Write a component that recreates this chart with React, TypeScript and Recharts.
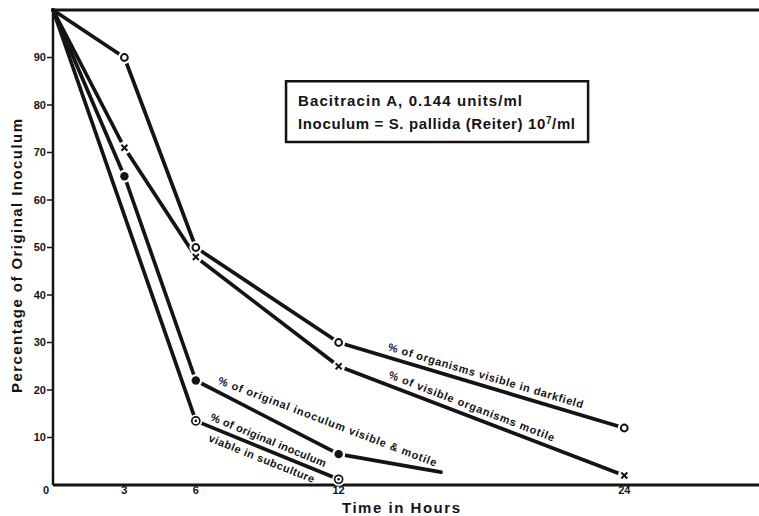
import React from 'react';
import { LineChart, Line, XAxis, YAxis, ReferenceLine, ReferenceArea, ReferenceDot } from 'recharts';

// ---- data ----
const hours = [0, 3, 6, 12, 24];
const darkfieldPct = [100, 90, 50, 30, 12];
const motilePct = [100, 71, 48, 25, 2];
const visibleMotileHours = [0, 3, 6, 12, 16.3];
const visibleMotilePct = [100, 65, 22, 6.5, 2.7];
const subcultureHours = [0, 6, 12];
const subculturePct = [100, 13.5, 1.2];

const xTicks = [0, 3, 6, 12, 24];
const yTicks = [10, 20, 30, 40, 50, 60, 70, 80, 90];
const xDomainMax = 29.66;

const boxLine1 = 'Bacitracin A,  0.144 units/ml';
const boxLine2a = 'Inoculum = S. pallida (Reiter) 10';
const boxLine2sup = '7';
const boxLine2b = '/ml';
const boxHours = [9.79, 22.48];
const boxPct = [72.2, 85.0];

const annotationTexts = [
  '% of organisms visible in darkfield',
  '% of visible organisms motile',
  '% of original inoculum visible & motile',
  '% of original inoculum',
  'viable in subculture',
];
const annotationHours = [18.18, 17.59, 11.53, 9.05, 8.77];
const annotationPct = [23.05, 16.63, 13.4, 9.5, 5.6];
const annotationAngle = [16.6, 21.1, 20.9, 22.4, 21.8];
const annotationLength = [203, 177, 233, 124, 113];

const toPoints = (xs: number[], ys: number[]) => xs.map((x, i) => ({ hours: x, pct: ys[i] }));
const seriesA = toPoints(hours, darkfieldPct);
const seriesB = toPoints(hours, motilePct);
const seriesC = toPoints(visibleMotileHours, visibleMotilePct);
const seriesD = toPoints(subcultureHours, subculturePct);

const INK = '#141414';
const FONT = '"Liberation Sans", Arial, sans-serif';

type Kind = 'open' | 'cross' | 'filled' | 'target';

const hasMarker = (kind: Kind, index: number) => {
  if (index === 0) return false;
  if (kind === 'filled' && index === visibleMotileHours.length - 1) return false;
  return true;
};

const haloDot = (kind: Kind) => (props: any) => {
  const { cx, cy, index } = props;
  if (!hasMarker(kind, index) || cx == null || cy == null) return <g key={`h-${kind}-${index}`} />;
  return <circle key={`h-${kind}-${index}`} cx={cx} cy={cy} r={6.5} fill="#fff" stroke="none" />;
};

const markerDot = (kind: Kind) => (props: any) => {
  const { cx, cy, index } = props;
  const key = `m-${kind}-${index}`;
  if (!hasMarker(kind, index) || cx == null || cy == null) return <g key={key} />;
  if (kind === 'open')
    return <circle key={key} cx={cx} cy={cy} r={3.4} fill="#fff" stroke={INK} strokeWidth={2} />;
  if (kind === 'filled') return <circle key={key} cx={cx} cy={cy} r={4.2} fill={INK} />;
  if (kind === 'target')
    return (
      <g key={key}>
        <circle cx={cx} cy={cy} r={4} fill="#fff" stroke={INK} strokeWidth={1.7} />
        <circle cx={cx} cy={cy} r={1.3} fill={INK} />
      </g>
    );
  const s = 3;
  return (
    <g key={key} stroke={INK} strokeWidth={2}>
      <line x1={cx - s} y1={cy - s} x2={cx + s} y2={cy + s} />
      <line x1={cx - s} y1={cy + s} x2={cx + s} y2={cy - s} />
    </g>
  );
};

const XTick = (props: any) => {
  const { x, y, payload } = props;
  const dx = payload.value === 0 ? -7 : 0;
  return (
    <text x={x + dx} y={y + 8.5} textAnchor="middle" fontFamily={FONT} fontWeight="bold" fontSize={11} fill={INK}>
      {payload.value}
    </text>
  );
};

const YTitle = (props: any) => {
  const vb = props.viewBox;
  const cx = vb.x + 16.5;
  const cy = vb.y + vb.height / 2 + 8.5;
  return (
    <text
      x={cx}
      y={cy}
      transform={`rotate(-90 ${cx} ${cy})`}
      textAnchor="middle"
      dominantBaseline="central"
      fontFamily={FONT}
      fontWeight="bold"
      fontSize={15}
      fill={INK}
      textLength={274}
      lengthAdjust="spacing"
    >
      Percentage of Original Inoculum
    </text>
  );
};

const XTitle = (props: any) => {
  const vb = props.viewBox;
  return (
    <text
      x={vb.x + 348}
      y={vb.y + 27.5}
      textAnchor="middle"
      fontFamily={FONT}
      fontWeight="bold"
      fontSize={15}
      fill={INK}
      textLength={118}
      lengthAdjust="spacing"
    >
      Time in Hours
    </text>
  );
};

const BoxLabel = (props: any) => {
  const vb = props.viewBox;
  const x = vb.x + 12;
  return (
    <g fontFamily={FONT} fontWeight="bold" fontSize={15} fill={INK}>
      <text x={x} y={vb.y + 24.5} textLength={224} lengthAdjust="spacing">
        {boxLine1}
      </text>
      <text x={x} y={vb.y + 47.5} textLength={277} lengthAdjust="spacing">
        {boxLine2a}
        <tspan dy={-5} fontSize={10}>
          {boxLine2sup}
        </tspan>
        <tspan dy={5}>{boxLine2b}</tspan>
      </text>
    </g>
  );
};

const annotationShape = (i: number) => (props: any) => {
  const { cx, cy } = props;
  return (
    <text
      x={cx}
      y={cy}
      transform={`rotate(${annotationAngle[i]} ${cx} ${cy})`}
      textAnchor="middle"
      dominantBaseline="central"
      fontFamily={FONT}
      fontWeight="bold"
      fontSize={11}
      fill={INK}
      textLength={annotationLength[i]}
      lengthAdjust="spacing"
    >
      {annotationTexts[i]}
    </text>
  );
};

const seriesList: { data: any[]; kind: Kind }[] = [
  { data: seriesA, kind: 'open' },
  { data: seriesB, kind: 'cross' },
  { data: seriesC, kind: 'filled' },
  { data: seriesD, kind: 'target' },
];

export default function App() {
  return (
    <div style={{ position: 'absolute', left: 0, top: 0, width: 759, height: 516, background: '#fff', overflow: 'hidden' }}>
      <LineChart width={759} height={516} margin={{ top: 10, right: 0, bottom: 0, left: 0 }}>
        {seriesList.map((s) => (
          <Line
            key={`line-${s.kind}`}
            data={s.data}
            dataKey="pct"
            type="linear"
            stroke={INK}
            strokeWidth={3.7}
            strokeLinecap="round"
            strokeLinejoin="round"
            dot={haloDot(s.kind)}
            activeDot={false}
            isAnimationActive={false}
            legendType="none"
          />
        ))}
        {seriesList.map((s) => (
          <Line
            key={`marker-${s.kind}`}
            data={s.data}
            dataKey="pct"
            type="linear"
            stroke="none"
            dot={markerDot(s.kind)}
            activeDot={false}
            isAnimationActive={false}
            legendType="none"
          />
        ))}
        <XAxis
          type="number"
          dataKey="hours"
          domain={[0, xDomainMax]}
          ticks={xTicks}
          interval={0}
          height={31}
          tickSize={0}
          tickMargin={0}
          tickLine={false}
          axisLine={{ stroke: INK, strokeWidth: 3 }}
          tick={<XTick />}
          label={<XTitle />}
        />
        <YAxis
          type="number"
          domain={[0, 100]}
          ticks={yTicks}
          interval={0}
          width={53}
          tickSize={6}
          tickMargin={1}
          tickLine={{ stroke: INK, strokeWidth: 1.5 }}
          axisLine={{ stroke: INK, strokeWidth: 2.5 }}
          tick={{ fontFamily: FONT, fontWeight: 'bold', fontSize: 11, fill: INK }}
          label={<YTitle />}
        />
        <ReferenceLine y={100} stroke={INK} strokeWidth={3} ifOverflow="visible" />
        <ReferenceArea
          x1={boxHours[0]}
          x2={boxHours[1]}
          y1={boxPct[0]}
          y2={boxPct[1]}
          fill="#fff"
          fillOpacity={1}
          stroke={INK}
          strokeWidth={2.5}
          ifOverflow="visible"
          label={<BoxLabel />}
        />
        {annotationTexts.map((t, i) => (
          <ReferenceDot
            key={t}
            x={annotationHours[i]}
            y={annotationPct[i]}
            r={0}
            ifOverflow="visible"
            shape={annotationShape(i)}
          />
        ))}
      </LineChart>
    </div>
  );
}
